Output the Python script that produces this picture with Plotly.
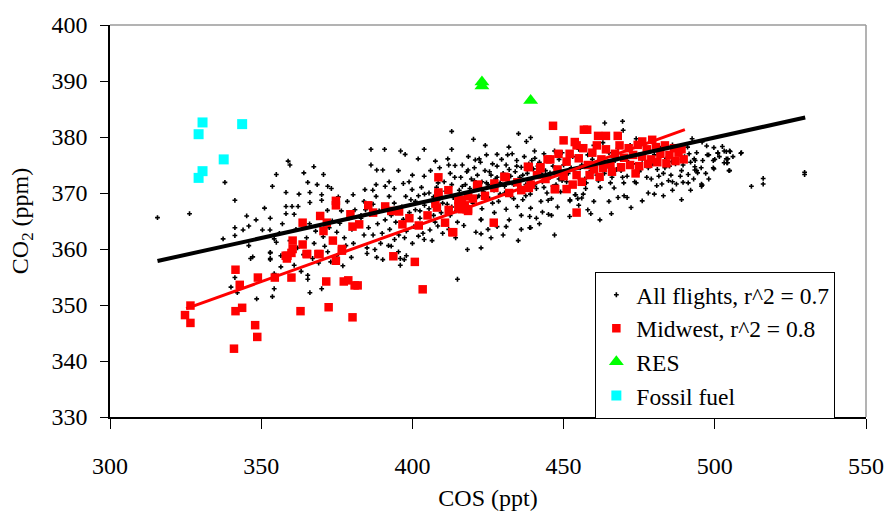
import plotly.graph_objects as go

# ---------------- data ----------------
all_x = [
 315.7,326.3,338,341.3,337.4,341.3,341.3,344,345.2,345.9,348.3,350.4,351.1,353,352.9,353.7,355,358.2,358.9,359.5,
 358.2,360.2,362.2,358.2,360.9,364.1,367.4,370.6,365.4,366.1,366.1,370,370,373.2,371.9,380.4,354.3,355,353,353,
 347.2,345.9,346.5,353,353,356.5,354.3,356.5,360.9,363.2,365.4,365.4,341.3,340,342.1,354.3,348.5,353.7,366.1,370,
 373,379.8,
 365,366,367.5,368,369,370.5,371,372.5,373.5,374,375,376,376.5,377.5,378,379,380,381,362,364,367,369,372,375,377,
 380.5,382,383,384,378.5,375.5,372,368.5,362.5,357,356,359.5,361.5,
 386.3,390.8,396.1,397.6,403.9,413,413,386.3,388.2,390.2,384.3,386.9,392.3,395.4,398.9,403.9,399.9,397.8,392.3,388,
 401.9,407.6,411.7,414.1,
 396,396,397.3,398,395.4,390.2,388.2,385,385,387.6,403.9,408.4,405.8,414.3,414.9,394.1,397.4,392.1,414.9,418.2,
 422.7,422.7,422.7,
 383,384.5,385.5,386,387,388.5,389,390,391,391.5,392.5,393,394,394.5,395.5,396.5,397,398,399,399.5,400.5,401,402,
 402.5,403.5,404,405,405.5,406.5,407,408,409,409.5,410.5,411,411.5,412.5,413,413.5,414.5,388,391,394,397,400,403,
 406,409,412,384,387,389.5,393,400,402,406.5,410,411,412.5,
 420.2,424.1,431.9,435.1,437.7,439.1,440.4,428,422.1,418.4,420.8,422.7,427.1,431,434.7,438.8,438.8,439.1,439.1,443,
 444.9,
 415.5,416,416.5,417,417.5,418,418.5,419,419.5,420,420.5,421,421.5,422,422.5,423,423.5,424,424.5,425,425.5,426,
 426.5,427,427.5,428,428.5,429,429.5,430,430.5,431,431.5,432,432.5,433,433.5,434,434.5,435,435.5,436,436.5,437,
 437.5,438,438.5,439,439.5,440,440.5,441,441.5,442,442.5,443,443.5,444,444.5,445,445.5,446,446.5,447,447.5,448,
 448.5,449,449.5,450,
 469.5,463.6,469.7,474,492.5,495.8,497.3,499.7,503.8,505.1,508.8,501,503.8,503.1,504.2,499.5,504.7,493.2,493.4,494,
 491.2,488.6,491.2,489.5,487.3,484.7,482.5,480.8,495.6,495.6,516,516,512.1,474,469.9,466.7,462.1,457.3,456.5,453.8,
 452.1,454.7,485.8,452.1,456,454,465.8,472.3,529.7,529.7,508.6,504.9,504,504.3,495.8,499.7,501,503.1,504.9,493.4,
 494.3,
 451,452.5,453,454.5,455,456,457,458,459,460,461,462,463,464,465,466,467,468,469,470,471,472,473,474,475,476,477,
 478,479,480,481,482,483,484,485,486,487,488,489,490,491,492,494,496,498,500,497,493,486,478,470,460,458,448,445,
 441,436,432,428,425,430,435,447,452,462,468,476,483,489,
 401,402.5,404,405.5,407,408.5,410,411.5,413,414,415,416.5,418,419,420.5,421.5,423,424.5,425.5,426.5,
 428,429,430.5,431.5,432.5,433.5,434.5,435.5,436.5,437.5,438.5,439.5,440.5,441.5,442.5,443.5,444.5,445.5,446.5,447.5,
 448.5,449.5,451.5,453.5,455.5,457.5,459.5,461.5,463.5,465.5,467.5,469.5,471.5,473.5,475.5,477.5,479.5,481.5,483.5,485.5,
 487.5,489.5,491.5,493.5,495.5,497.5,499.5,501.5,502.5,506,407.5,412,417,421,426,431,436,442,446,455,
 459,465,471,480,486,492,498,
]
all_y = [
 365.6,366.3,371.9,368.7,361.8,363.8,362.4,363.4,365.9,364.1,365.2,363.4,367.3,365.5,363.4,371.2,373.3,370.1,375.7,375,
 367.6,367.6,367.6,366.3,366.2,373.6,374.7,373.3,371.9,370.1,368.3,369.7,368.7,370.8,366.9,369.7,361.8,361.2,359.4,358.3,
 358.6,360.6,358.3,359.3,358.1,358.8,355.6,356.8,357.1,356,355.3,354.6,354.9,353.2,352.2,352.9,351.1,351.5,352.2,352.9,
 357.7,358.5,
 362,364.5,361,363.2,365.8,362.2,360.5,363.8,365,361.5,363,364.6,366.8,362,360.6,365.5,363.5,367,360.2,359,358.3,357.5,
 359.5,358.8,357,361,364.5,366,362.5,368.5,369.3,371.2,371.5,369.8,364.5,362.8,361.5,363.5,
 377.8,377.8,377.5,376.9,377.8,377.8,381,375,374.1,374.1,370.6,370.5,372,374,372,373,370.6,369.4,369.4,369.4,
 376.1,375.7,376.1,374.9,
 357.1,358.3,358.1,358.8,359.5,358.1,358.5,359.2,360.2,359.9,361.7,364.1,363.4,362,364.8,361.7,362,360.6,354.6,359.9,
 360.2,362.7,365.2,
 365.5,367,363.8,366.2,368,364.5,366.8,362.8,365.2,367.5,363.5,366,368.2,364.8,362.5,367.5,365.3,363.2,366.5,368.8,
 364,367,369.5,365.5,362.8,367.8,365.8,370,368.5,366,371,369,366.5,372,370.3,368,373.5,371.5,369.2,366.8,371.5,371.2,
 370.8,371.7,373.2,371,374,374.5,375,368.5,362.5,361,360.5,361,362.3,361.5,362.8,364.5,366,
 379.6,378.5,378.2,380.6,379.2,379.9,377.5,376.9,376.1,374.1,375.9,365.3,366.5,367.1,367.6,365.8,363.8,363.8,367.3,366.6,
 368.7,
 370.5,372.8,375,368.8,371.5,373.8,376.5,370,372.5,368.2,374.5,371,373.2,369.5,375.5,372,370.2,374,376.8,371.5,369,
 373.2,375.2,370.5,372.5,374.8,368.5,371.8,376,373.5,370,375,372.2,374.2,369.5,377,371.5,373.8,375.8,370.5,372.8,
 374.6,368.8,376.5,371.5,373.5,375.2,369.8,372.5,374.3,376.2,370.8,373,375.5,368.5,372,377,374,370,375.8,372.8,369,
 374.8,377.5,371.5,373.5,376,370.2,372.2,375,
 382.8,382.5,381.2,379.7,379.7,379.1,378.4,378.1,377.4,377.4,377.2,377.2,376.1,375.4,375.4,374.5,374,376.1,374.7,374,
 373.3,373,371.8,371.9,371.6,372.2,371.6,371.3,371.6,371.2,372.6,371.6,371.2,371.8,371.8,370.9,371,370.8,369.8,369.7,
 368.6,369,375.6,368.8,369.1,369.7,366.3,367.4,373.3,373.7,377.1,374,375.4,376.1,371.4,374.3,377.1,377.5,377.5,374.1,
 373.6,
 372,374.5,376.5,373,377.8,375,372.5,376.8,374,378.5,373.2,376,379,374.5,377.2,372.8,375.8,378,374,376.5,373,378.5,
 375.2,377,373.8,376,378.2,374.5,372.5,376.8,374.2,378,373.5,376.2,374.8,378.6,375.2,377,374,376.5,378.2,375.5,377.2,
 375.8,376.8,376,373.5,372.5,370.5,370,369.5,368.5,367,367.5,366.2,365.5,366,365.2,364,363.5,362.5,361.5,362.5,365.8,
 365.2,369.2,368.6,369.5,368.8,
 368.5,366.8,369.8,367.2,369.3,371.8,368.2,370.8,367.5,372.8,369.6,371.2,367.8,370.8,372.2,369.3,367.2,371.8,373.8,368.2,
 372.8,369.8,371.2,376.8,373,369,374.8,371.2,373.2,369.5,372.2,375.8,371.5,374.8,373.5,371,376.2,373.6,371.2,374.2,
 372.5,377.2,373.5,371.5,374.5,371.8,376,372.2,373.5,371.8,374.2,372.8,375.5,372,374.2,372.8,375.2,373,374.5,373.2,
 376,375,377,375.8,374.5,376.8,375.8,376.5,378.3,376.5,364.8,363.5,364.2,363,362,364,363.5,364.5,366,367.8,
 366.3,368.5,369.2,369.8,372,370.5,372.5,
]
assert len(all_x) == len(all_y)

mid_x = [
 341.5,342.9,348.9,354.5,360,326.6,324.8,326.6,341.5,343.7,348,348.7,341,363,371.5,372.3,377.3,378.8,380.9,380.2,
 358.1,360,365,369.3,374.7,376.7,374.7,374.7,379.5,380.2,363.7,369.5,371.7,370.6,360.4,363.7,373.7,376.7,358.7,365.2,
 368.9,360.4,358.5,
 446.5,408.6,411.9,408.6,385.4,391,395.6,407.6,415.2,417.3,418.4,416.3,410.8,396.7,402.1,426.9,421.4,427.1,430.9,434.7,
 438.2,439.1,442.3,444.7,447.2,448.3,393.7,400.8,403.4,381.9,413.2,382.4,418.4,
 454.3,438.5,442.3,445.6,450,453.7,447.1,451,441.2,438.5,430.4,427.1,421.7,418.4,415.2,417.9,416.3,413.5,408.6,408.1,
 456.7,457.8,461.4,464,467.9,454.3,476,479.3,489,489.7,451,473.8,454.3,458.6,461.9,
 452,455,456.5,458,459.5,461,462.5,464,465.5,467,468.5,470,471.5,473,474.5,476,477.5,479,480.5,482,483.5,485,486.5,
 488,460,463,466,469,472,475,478,481,484,487,448,450,453,456,444,436,432,424,420,412,405,399,393,387,
]
mid_y = [
 356.3,353.6,354.9,354.9,354.9,349.9,348.2,346.8,348.9,349.5,346.4,344.3,342.2,348.9,354.2,349.6,354.2,354.4,353.5,347.8,
 358.8,359.3,359.1,359.1,357.9,359.7,367.8,368.6,366.2,364,364.7,365.9,364.7,363.2,361.5,360.8,361.5,360,358.8,359.1,
 359.1,360,358.3,
 382,372.8,370.5,370.1,367.8,367.6,366.7,368.1,368.8,367.8,367.1,367.1,364.7,364.4,364.2,364.7,371.3,371.7,372.8,371.9,
 374.7,371.5,374.4,376,370.7,377,358.7,357.7,352.8,353.5,363,364.4,366.8,
 366.5,374.6,374.6,376,379.4,379.1,370.7,370.7,373.2,370.9,372.9,370.9,371.5,369.4,367.6,367.1,368.8,363,369.7,367.4,
 381.3,381.3,380.2,380.2,380.2,378.5,379.2,379.5,377.8,376,375.6,373.5,373.2,373.2,372.9,
 377,376.2,378,375,377.2,378.5,376,377.8,375.2,377,378.5,376.3,378,376.8,378.6,376.5,377.8,376,378.2,377,378.5,376.8,
 378,377.2,374.2,374.5,373.8,374.6,375,374.8,375.2,375.5,375.3,375.7,374.2,373,371.5,372,372.5,370.5,370,369.5,369,
 367,366,365.5,366.8,366.5,
]
assert len(mid_x) == len(mid_y)

res_x = [423.0, 423.0, 439.1]
res_y = [389.8, 389.1, 386.5]

fossil_x = [330.6, 329.3, 343.7, 337.6, 330.6, 329.3]
fossil_y = [382.6, 380.5, 382.3, 376.0, 373.9, 372.7]

# linear fits as drawn: slope, intercept, x extent
all_fit = {"slope": 0.1196, "intercept": 320.1, "x": [315.7, 529.9]}
mid_fit = {"slope": 0.1939, "intercept": 286.3, "x": [325.2, 490.1]}

legend_names = ["All flights, r^2 = 0.7", "Midwest, r^2 = 0.8", "RES", "Fossil fuel"]
x_ticks = [300, 350, 400, 450, 500, 550]
y_ticks = [330, 340, 350, 360, 370, 380, 390, 400]

# ---------------- figure ----------------
FONT = "Times New Roman, Liberation Serif, DejaVu Serif, serif"
fig = go.Figure()

fig.add_trace(go.Scatter(x=all_x, y=all_y, mode="markers", name=legend_names[0],
                         marker=dict(symbol="cross", size=4, color="black", line=dict(width=0))))
fig.add_trace(go.Scatter(x=mid_x, y=mid_y, mode="markers", name=legend_names[1],
                         marker=dict(symbol="square", size=8.5, color="#ff0000", line=dict(width=0))))
fig.add_trace(go.Scatter(x=res_x, y=res_y, mode="markers", name=legend_names[2],
                         marker=dict(symbol="triangle-up", size=13, color="#00ff00", line=dict(width=0))))
fig.add_trace(go.Scatter(x=fossil_x, y=fossil_y, mode="markers", name=legend_names[3],
                         marker=dict(symbol="square", size=10, color="#00ffff", line=dict(width=0))))

for fit, col, w in [(all_fit, "black", 4), (mid_fit, "#ff0000", 3)]:
    xs = fit["x"]
    ys = [fit["slope"] * v + fit["intercept"] for v in xs]
    fig.add_trace(go.Scatter(x=xs, y=ys, mode="lines", showlegend=False,
                             line=dict(color=col, width=w), hoverinfo="skip"))

fig.update_layout(
    width=896, height=519,
    margin=dict(l=110, r=19, t=23, b=98),
    paper_bgcolor="white", plot_bgcolor="white",
    font=dict(family=FONT, size=24, color="black"),
    showlegend=True,
    legend=dict(x=0.642, y=0.37, xanchor="left", yanchor="top",
                bgcolor="white", bordercolor="black", borderwidth=1,
                font=dict(family=FONT, size=23.5, color="black"),
                itemsizing="trace", tracegroupgap=0),
    shapes=[
        dict(type="line", xref="paper", yref="paper", x0=0, x1=1, y0=1, y1=1,
             line=dict(color="#9a9a9a", width=1.5)),
        dict(type="line", xref="paper", yref="paper", x0=1, x1=1, y0=0, y1=1,
             line=dict(color="#9a9a9a", width=1.5)),
    ],
)
fig.update_xaxes(range=[300, 550], tickvals=x_ticks, showgrid=False, zeroline=False,
                 showline=True, linecolor="black", linewidth=1.5,
                 ticks="outside", ticklen=10, tickcolor="black", tickwidth=1,
                 ticklabelstandoff=16, tickfont=dict(family=FONT, size=24),
                 title=dict(text="COS (ppt)", standoff=12, font=dict(family=FONT, size=24)))
fig.update_yaxes(range=[330, 400], tickvals=y_ticks, showgrid=False, zeroline=False,
                 showline=True, linecolor="black", linewidth=1.5,
                 ticks="outside", ticklen=8, tickcolor="black", tickwidth=1,
                 ticklabelstandoff=8, tickfont=dict(family=FONT, size=24),
                 title=dict(text="CO<sub>2</sub> (ppm)", standoff=16, font=dict(family=FONT, size=24)))

fig.write_html("out.html")
